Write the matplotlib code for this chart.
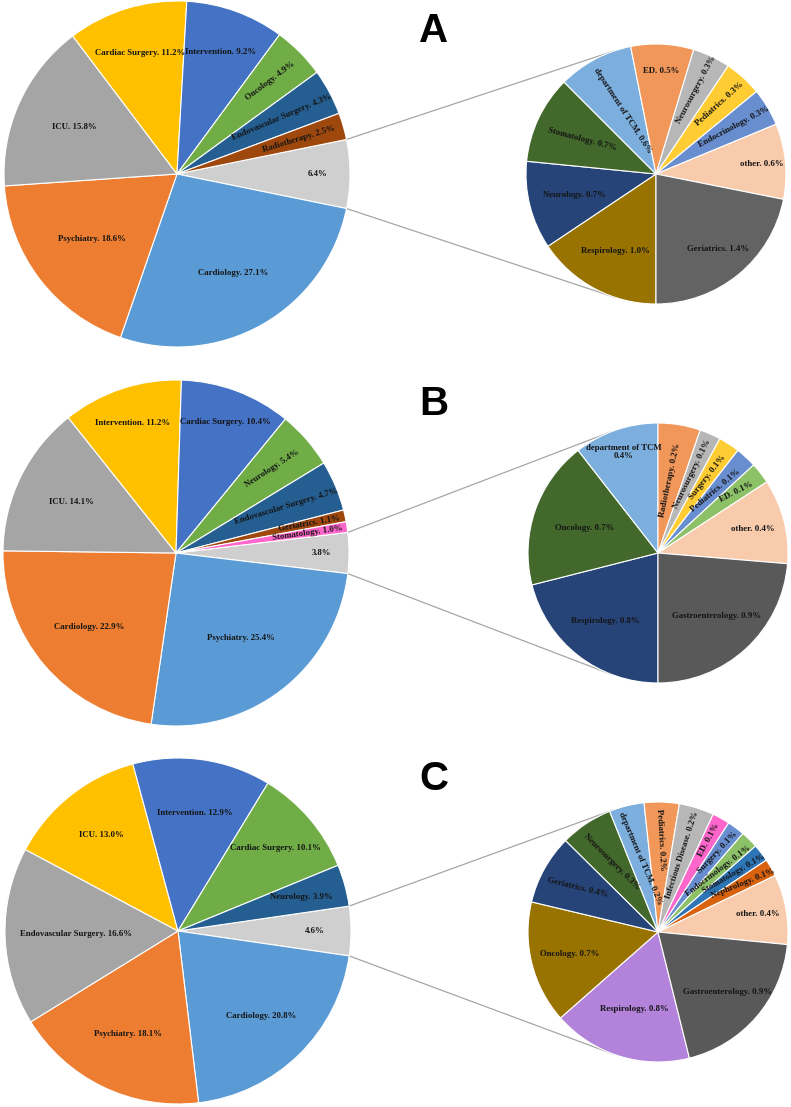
import numpy as np
import matplotlib.pyplot as plt

# ============ Du lieu ============
# A - main pie (clockwise, bat dau tu slice "other")
a_main_names = ['', 'Cardiology', 'Psychiatry', 'ICU', 'Cardiac Surgery',
                'Intervention', 'Oncology', 'Endovascular Surgery', 'Radiotherapy']
a_main_vals = [6.4, 27.1, 18.6, 15.8, 11.2, 9.2, 4.9, 4.3, 2.5]
a_main_cols = ['#D0CFCF', '#5B9BD5', '#ED7D31', '#A5A5A5', '#FFC000',
               '#4472C4', '#70AD47', '#255E91', '#9E480E']

# A - secondary pie (clockwise tu 6 gio)
a_sec_names = ['Respirology', 'Neurology', 'Stomatology', 'department of TCM', 'ED',
               'Neurosurgery', 'Pediatrics', 'Endocrinology', 'other', 'Geriatrics']
a_sec_vals = [1.0, 0.7, 0.7, 0.6, 0.5, 0.3, 0.3, 0.3, 0.6, 1.4]
a_sec_cols = ['#997300', '#264478', '#43682B', '#7CAFDD', '#F1975A',
              '#B7B7B7', '#FFCD33', '#698ED0', '#F8CBAD', '#636363']

# B
b_main_names = ['', 'Psychiatry', 'Cardiology', 'ICU', 'Intervention', 'Cardiac Surgery',
                'Neurology', 'Endovascular Surgery', 'Geriatrics', 'Stomatology']
b_main_vals = [3.8, 25.4, 22.9, 14.1, 11.2, 10.4, 5.4, 4.7, 1.1, 1.0]
b_main_cols = ['#D0CFCF', '#5B9BD5', '#ED7D31', '#A5A5A5', '#FFC000',
               '#4472C4', '#70AD47', '#255E91', '#9E480E', '#FF66CC']

b_sec_names = ['Respirology', 'Oncology', 'department of TCM', 'Radiotherapy', 'Neurosurgery',
               'Surgery', 'Pediatrics', 'ED', 'other', 'Gastroenterology']
b_sec_vals = [0.8, 0.7, 0.4, 0.2, 0.1, 0.1, 0.1, 0.1, 0.4, 0.9]
b_sec_cols = ['#264478', '#43682B', '#7CAFDD', '#F1975A', '#B7B7B7',
              '#FFCD33', '#698ED0', '#8CC168', '#F8CBAD', '#595959']

# C
c_main_names = ['', 'Cardiology', 'Psychiatry', 'Endovascular Surgery', 'ICU',
                'Intervention', 'Cardiac Surgery', 'Neurology']
c_main_vals = [4.6, 20.8, 18.1, 16.6, 13.0, 12.9, 10.1, 3.9]
c_main_cols = ['#D0CFCF', '#5B9BD5', '#ED7D31', '#A5A5A5', '#FFC000',
               '#4472C4', '#70AD47', '#255E91']

c_sec_names = ['Respirology', 'Oncology', 'Geriatrics', 'Neurosurgery', 'department of TCM',
               'Pediatrics', 'Infectious Disease', 'ED', 'Surgery', 'Endocrinology',
               'Stomatology', 'Nephrology', 'other', 'Gastroenterology']
c_sec_vals = [0.8, 0.7, 0.4, 0.3, 0.2, 0.2, 0.2, 0.1, 0.1, 0.1, 0.1, 0.1, 0.4, 0.9]
c_sec_cols = ['#B383DB', '#997300', '#264478', '#43682B', '#7CAFDD',
              '#F1975A', '#B7B7B7', '#FF66CC', '#698ED0', '#8CC168',
              '#2E75B6', '#D9620E', '#F8CBAD', '#595959']

# ============ Bo tri nhan (ban kinh tuong doi, goc xoay; None = nam ngang) ============
a_main_lr = [0.81, 0.66, 0.62, 0.65, 0.73, 0.75, 0.76, 0.69, 0.73]
a_main_rot = [None, None, None, None, None, None, 37, 23, 17]
a_sec_lr = [0.67, 0.65, 0.63, 0.55, 0.79, 0.72, 0.73, 0.70, 0.82, 0.75]
a_sec_rot = [None, None, -15, -57, None, 62, 42, 28, None, None]

b_main_lr = [0.84, 0.62, 0.66, 0.67, 0.79, 0.81, 0.74, 0.69, 0.79, 0.77]
b_main_rot = [None, None, None, None, None, None, 33, 17, 10, 8]
b_sec_lr = [0.66, 0.60, 0.82, 0.57, 0.66, 0.70, 0.65, 0.76, 0.75, 0.66]
b_sec_rot = [None, None, None, 78, 64, 52, 40, 27, None, None]

c_main_lr = [0.79, 0.69, 0.66, 0.59, 0.71, 0.69, 0.74, 0.74]
c_main_rot = [None] * 8
c_sec_lr = [0.62, 0.70, 0.71, 0.65, 0.58, 0.71, 0.62, 0.81, 0.76, 0.66, 0.73, 0.75, 0.78, 0.71]
c_sec_rot = [None, None, -14, -45, -67, -87, 72, 62, 47, 37, 30, 22, None, None]

W, H = 791, 1107
R_MAIN, R_SEC = 173, 130
LABEL_FONT = dict(family='Liberation Serif', fontweight='bold', fontsize=6.3, color='#141414')


def draw_pie(ax, names, vals, cols, center, radius, start, lr, rot, wrap=()):
    total = sum(vals)
    ax.pie(vals, colors=cols, center=center, radius=radius, startangle=start,
           counterclock=False,
           wedgeprops=dict(edgecolor='white', linewidth=0.8))
    cum = np.cumsum([0] + list(vals))
    for i, (n, v) in enumerate(zip(names, vals)):
        mid = np.deg2rad(start - (cum[i] + v / 2) / total * 360)
        x = center[0] + lr[i] * radius * np.cos(mid)
        y = center[1] + lr[i] * radius * np.sin(mid)
        if not n:
            s = f'{v:.1f}%'
        elif n in wrap:
            s = f'{n}\n{v:.1f}%'
        else:
            s = f'{n}. {v:.1f}%'
        ax.text(x, y, s, ha='center', va='center', rotation=rot[i] or 0,
                rotation_mode='anchor', linespacing=1.0, **LABEL_FONT)


def connectors(ax, c1, r1, half, c2, r2):
    # noi mep slice "other" cua pie chinh voi tiep tuyen cua pie phu
    for sgn in (1, -1):
        a = np.deg2rad(sgn * half)
        p = np.array([c1[0] + r1 * np.cos(a), c1[1] + r1 * np.sin(a)])
        d = p - np.array(c2)
        dist = np.hypot(*d)
        phi = np.arctan2(d[1], d[0]) % (2 * np.pi)
        alpha = np.arccos(r2 / dist)
        t = phi - sgn * alpha
        q = (c2[0] + r2 * np.cos(t), c2[1] + r2 * np.sin(t))
        ax.plot([p[0], q[0]], [p[1], q[1]], color='#A6A6A6', lw=0.9, zorder=0)


fig = plt.figure(figsize=(W / 100, H / 100), dpi=100)
ax = fig.add_axes([0, 0, 1, 1])

rows = [
    ('A', (177, 933), (656, 933), 270,
     (a_main_names, a_main_vals, a_main_cols, a_main_lr, a_main_rot),
     (a_sec_names, a_sec_vals, a_sec_cols, a_sec_lr, a_sec_rot), (), 1076),
    ('B', (176, 554), (658, 554), 270,
     (b_main_names, b_main_vals, b_main_cols, b_main_lr, b_main_rot),
     (b_sec_names, b_sec_vals, b_sec_cols, b_sec_lr, b_sec_rot), ('department of TCM',), 703),
    ('C', (178, 176), (658, 175), 284,
     (c_main_names, c_main_vals, c_main_cols, c_main_lr, c_main_rot),
     (c_sec_names, c_sec_vals, c_sec_cols, c_sec_lr, c_sec_rot), (), 328),
]

for letter, c_main, c_sec, sec_start, main, sec, wrap, ly in rows:
    names, vals, cols, lr, rot = main
    half = vals[0] / sum(vals) * 180
    connectors(ax, c_main, R_MAIN, half, c_sec, R_SEC)
    draw_pie(ax, names, vals, cols, c_main, R_MAIN, half, lr, rot)
    names, vals, cols, lr, rot = sec
    draw_pie(ax, names, vals, cols, c_sec, R_SEC, sec_start, lr, rot, wrap)
    ax.text(434, ly, letter, ha='center', va='center', fontsize=29,
            fontweight='bold', family='Liberation Sans', color='black')

ax.set_xlim(0, W)
ax.set_ylim(0, H)
ax.set_aspect('equal')
ax.axis('off')

fig.savefig('out.png', dpi=100, facecolor='white')
